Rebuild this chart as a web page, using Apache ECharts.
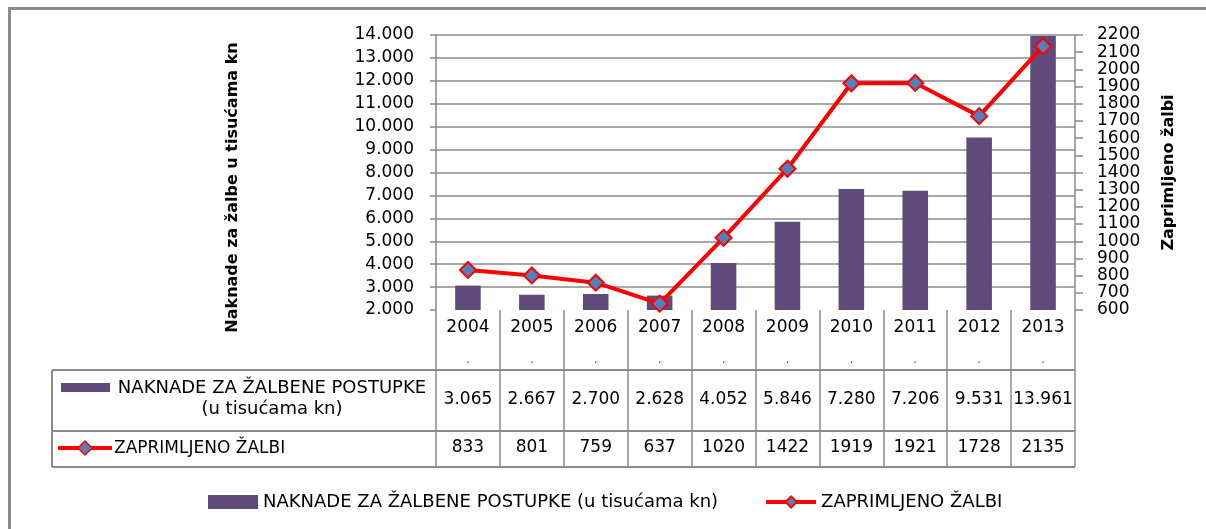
<!DOCTYPE html>
<html>
<head>
<meta charset="utf-8">
<script src="https://cdn.jsdelivr.net/npm/echarts@6/dist/echarts.min.js"></script>
<style>
html,body{margin:0;padding:0;background:#fff;}
#c{width:1206px;height:529px;}
</style>
</head>
<body>
<div id="c"></div>
<script>
const years = ['2004','2005','2006','2007','2008','2009','2010','2011','2012','2013'];
const naknade = [3065, 2667, 2700, 2628, 4052, 5846, 7280, 7206, 9531, 13961];
const zaprimljeno = [833, 801, 759, 637, 1020, 1422, 1919, 1921, 1728, 2135];
const barName = 'NAKNADE ZA ŽALBENE POSTUPKE (u tisućama kn)';
const lineName = 'ZAPRIMLJENO ŽALBI';
const rowHeader1 = ['NAKNADE ZA ŽALBENE POSTUPKE', '(u tisućama kn)'];
const rowHeader2 = 'ZAPRIMLJENO ŽALBI';
const leftAxisTitle = 'Naknade za žalbe u tisućama kn';
const rightAxisTitle = 'Zaprimljeno žalbi';

const FONT = 'DejaVu Sans';
const GRID_L = 436, GRID_R = 1075, GRID_T = 35, GRID_B = 310;
const TABLE_L = 52, ROW1_T = 370, ROW2_T = 431, TABLE_B = 467;
const GRAY = '#8a8a8a';
const PURPLE = '#604A7B';
const BLUE = '#4F81BD';

const fmt = n => String(n).replace(/\B(?=(\d{3})+(?!\d))/g, '.');

const chart = echarts.init(document.getElementById('c'), null, {renderer: 'canvas'});

const tableAxis = (offset, formatter) => ({
  type: 'category',
  data: years,
  position: 'bottom',
  gridIndex: 0,
  offset: offset,
  axisLine: {show: false},
  axisTick: {show: false},
  splitLine: {show: false},
  axisLabel: {
    margin: 0, interval: 0,
    fontFamily: FONT, fontSize: 17, color: '#000', lineHeight: 20,
    formatter: formatter
  }
});

chart.setOption({
  backgroundColor: '#fff',
  animation: false,
  textStyle: {fontFamily: FONT},
  grid: {left: GRID_L, right: 1206 - GRID_R, top: GRID_T, bottom: 529 - GRID_B, containLabel: false},
  legend: {
    data: [{name: barName, icon: 'rect'}, {name: lineName}],
    left: 203, top: 488,
    itemWidth: 50, itemHeight: 14, itemGap: 46,
    lineStyle: {width: 4},
    textStyle: {fontFamily: FONT, fontSize: 18, color: '#000'},
    selectedMode: false
  },
  xAxis: [
    {
      type: 'category',
      data: years,
      position: 'bottom',
      axisLine: {show: false},
      axisTick: {show: true, inside: false, length: TABLE_B - GRID_B, lineStyle: {color: GRAY, width: 1.5}},
      splitLine: {show: false},
      axisLabel: {
        margin: 2, interval: 0,
        formatter: v => '{y|' + v + '}\n{d|.}',
        rich: {
          y: {fontFamily: FONT, fontSize: 17, color: '#000', lineHeight: 32},
          d: {fontFamily: FONT, fontSize: 12, color: '#555', lineHeight: 32}
        }
      }
    },
    tableAxis(80, (v, i) => fmt(naknade[i])),
    tableAxis(128, (v, i) => String(zaprimljeno[i]))
  ],
  yAxis: [
    {
      type: 'value',
      position: 'left',
      min: 2000, max: 14000, interval: 1000,
      name: leftAxisTitle,
      nameLocation: 'middle', nameRotate: 90, nameGap: 195,
      nameTextStyle: {fontFamily: FONT, fontSize: 16, fontWeight: 'bold', color: '#000', padding: [0, 30, 0, 0]},
      axisLine: {show: true, lineStyle: {color: GRAY, width: 1.5}},
      axisTick: {show: true, inside: false, length: 6, lineStyle: {color: GRAY, width: 1.5}},
      splitLine: {show: true, showMinLine: false, lineStyle: {color: GRAY, width: 1.5}},
      axisLabel: {margin: 22, fontFamily: FONT, fontSize: 17, color: '#000', formatter: v => fmt(v)}
    },
    {
      type: 'value',
      position: 'right',
      min: 600, max: 2200, interval: 100,
      name: rightAxisTitle,
      nameLocation: 'middle', nameRotate: 90, nameGap: 86,
      nameTextStyle: {fontFamily: FONT, fontSize: 16, fontWeight: 'bold', color: '#000'},
      axisLine: {show: true, lineStyle: {color: GRAY, width: 1.5}},
      axisTick: {show: true, inside: false, length: 8, lineStyle: {color: GRAY, width: 1.5}},
      splitLine: {show: false},
      axisLabel: {margin: 22, fontFamily: FONT, fontSize: 17, color: '#000', formatter: v => String(v)}
    }
  ],
  series: [
    {
      name: barName,
      type: 'bar',
      xAxisIndex: 0, yAxisIndex: 0,
      data: naknade,
      barWidth: '40%',
      itemStyle: {color: PURPLE}
    },
    {
      name: lineName,
      type: 'line',
      xAxisIndex: 0, yAxisIndex: 1,
      data: zaprimljeno,
      symbol: 'diamond', symbolSize: 16,
      lineStyle: {color: '#FF0000', width: 4},
      itemStyle: {color: BLUE, borderColor: '#FF0000', borderWidth: 2}
    }
  ],
  graphic: [
    // outer frame (top and left edges visible)
    {type: 'line', shape: {x1: 9.5, y1: 7, x2: 9.5, y2: 529}, style: {stroke: GRAY, lineWidth: 3}, silent: true},
    {type: 'line', shape: {x1: 8, y1: 8.5, x2: 1206, y2: 8.5}, style: {stroke: GRAY, lineWidth: 3}, silent: true},
    // table horizontal lines
    {type: 'line', shape: {x1: TABLE_L, y1: ROW1_T, x2: GRID_R, y2: ROW1_T}, style: {stroke: GRAY, lineWidth: 2}},
    {type: 'line', shape: {x1: TABLE_L, y1: ROW2_T, x2: GRID_R, y2: ROW2_T}, style: {stroke: GRAY, lineWidth: 2}},
    {type: 'line', shape: {x1: TABLE_L, y1: TABLE_B, x2: GRID_R, y2: TABLE_B}, style: {stroke: GRAY, lineWidth: 2}},
    {type: 'line', shape: {x1: TABLE_L, y1: ROW1_T, x2: TABLE_L, y2: TABLE_B}, style: {stroke: GRAY, lineWidth: 2}},
    // row header 1
    {type: 'rect', shape: {x: 61, y: 383, width: 49, height: 9}, style: {fill: PURPLE}},
    {type: 'text', x: 272, y: 388, style: {text: rowHeader1[0], font: '18px "DejaVu Sans"', fill: '#000', align: 'center', verticalAlign: 'middle'}},
    {type: 'text', x: 272, y: 409, style: {text: rowHeader1[1], font: '18px "DejaVu Sans"', fill: '#000', align: 'center', verticalAlign: 'middle'}},
    // row header 2
    {type: 'line', shape: {x1: 58, y1: 448, x2: 112, y2: 448}, style: {stroke: '#FF0000', lineWidth: 4}},
    {type: 'polygon', shape: {points: [[85, 441], [92, 448], [85, 455], [78, 448]]}, style: {fill: BLUE, stroke: '#FF0000', lineWidth: 1.5}},
    {type: 'text', x: 114, y: 449, style: {text: rowHeader2, font: '17px "DejaVu Sans"', fill: '#000', align: 'left', verticalAlign: 'middle'}}
  ]
});
</script>
</body>
</html>
